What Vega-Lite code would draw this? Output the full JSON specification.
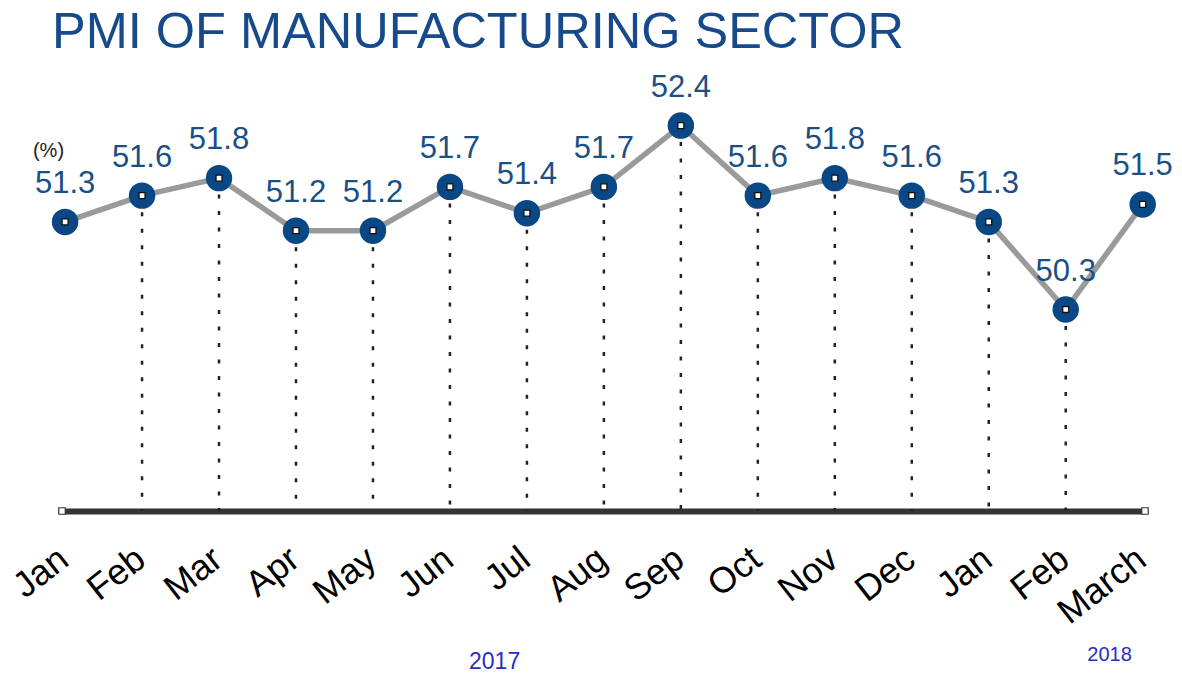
{
  "$schema": "https://vega.github.io/schema/vega-lite/v6.json",
  "width": 1083,
  "height": 438,
  "autosize": {"type": "none"},
  "padding": {"left": 62, "top": 73, "right": 37, "bottom": 163},
  "background": "white",
  "config": {"view": {"stroke": null}, "font": "Liberation Sans"},
  "title": {
    "text": "PMI OF MANUFACTURING SECTOR",
    "anchor": "start",
    "frame": "group",
    "font": "Liberation Sans",
    "fontSize": 50.5,
    "fontWeight": "normal",
    "color": "#174a8b",
    "baseline": "alphabetic",
    "offset": 23,
    "dx": -10,
    "dy": 50
  },
  "datasets": {
    "pmi": [
      {"i": 0, "month": "Jan", "pmi": 51.3},
      {"i": 1, "month": "Feb", "pmi": 51.6},
      {"i": 2, "month": "Mar", "pmi": 51.8},
      {"i": 3, "month": "Apr", "pmi": 51.2},
      {"i": 4, "month": "May", "pmi": 51.2},
      {"i": 5, "month": "Jun", "pmi": 51.7},
      {"i": 6, "month": "Jul", "pmi": 51.4},
      {"i": 7, "month": "Aug", "pmi": 51.7},
      {"i": 8, "month": "Sep", "pmi": 52.4},
      {"i": 9, "month": "Oct", "pmi": 51.6},
      {"i": 10, "month": "Nov", "pmi": 51.8},
      {"i": 11, "month": "Dec", "pmi": 51.6},
      {"i": 12, "month": "Jan", "pmi": 51.3},
      {"i": 13, "month": "Feb", "pmi": 50.3},
      {"i": 14, "month": "March", "pmi": 51.5}
    ],
    "years": [
      {"i": 5.58, "v": 46.28, "year": "2017"},
      {"i": 13.57, "v": 46.36, "year": "2018"}
    ],
    "ends": [
      {"i": -0.04, "v": 48},
      {"i": 14.03, "v": 48}
    ]
  },
  "layer": [
    {
      "data": {"name": "pmi"},
      "transform": [{"filter": "datum.i > 0 && datum.i < 14"}],
      "mark": {"type": "rule", "color": "#222222", "strokeWidth": 2.5, "strokeDash": [4, 12.5]},
      "encoding": {
        "x": {"field": "i", "type": "quantitative", "scale": {"domain": [-0.04, 14.03], "nice": false, "zero": false},
          "axis": {
            "values": [0,1,2,3,4,5,6,7,8,9,10,11,12,13,14],
            "labelExpr": "['Jan','Feb','Mar','Apr','May','Jun','Jul','Aug','Sep','Oct','Nov','Dec','Jan','Feb','March'][datum.value]",
            "labelAngle": -38,
            "labelAlign": "right",
            "labelBaseline": "top",
            "labelFontSize": 36,
            "labelFont": "Liberation Sans",
            "labelColor": "#000000",
            "labelPadding": 30,
            "labelOffset": -12,
            "labelOverlap": false,
            "labelFlush": false,
            "labelBound": false,
            "ticks": false,
            "grid": false,
            "domainColor": "#333333",
            "domainWidth": 6,
            "title": null
          }
        },
        "y": {"field": "pmi", "type": "quantitative", "scale": {"domain": [48, 53], "nice": false, "zero": false}, "axis": {
            "domain": false, "ticks": false, "labels": false, "grid": false,
            "title": "(%)", "titleAngle": 0, "titleAlign": "center", "titleBaseline": "middle",
            "titleX": -14, "titleY": 77, "titleFontSize": 20, "titleFontWeight": "normal",
            "titleFont": "Liberation Sans", "titleColor": "#222222"
          }},
        "y2": {"datum": 48}
      }
    },
    {
      "data": {"name": "pmi"},
      "mark": {"type": "line", "color": "#9a9a9a", "strokeWidth": 5.5},
      "encoding": {
        "x": {"field": "i", "type": "quantitative"},
        "y": {"field": "pmi", "type": "quantitative"}
      }
    },
    {
      "data": {"name": "pmi"},
      "mark": {"type": "point", "shape": "circle", "filled": true, "color": "#0a4885", "size": 700, "opacity": 1},
      "encoding": {
        "x": {"field": "i", "type": "quantitative"},
        "y": {"field": "pmi", "type": "quantitative"}
      }
    },
    {
      "data": {"name": "pmi"},
      "mark": {"type": "square", "fill": "#ffffff", "stroke": "#111111", "strokeWidth": 1.3, "size": 36, "opacity": 1},
      "encoding": {
        "x": {"field": "i", "type": "quantitative"},
        "y": {"field": "pmi", "type": "quantitative"}
      }
    },
    {
      "data": {"name": "pmi"},
      "mark": {"type": "text", "font": "Liberation Sans", "fontSize": 31, "color": "#1a4f86", "baseline": "alphabetic", "align": "center", "dy": -29},
      "encoding": {
        "x": {"field": "i", "type": "quantitative"},
        "y": {"field": "pmi", "type": "quantitative"},
        "text": {"field": "pmi", "type": "quantitative", "format": ".1f"}
      }
    },
    {
      "data": {"name": "ends"},
      "mark": {"type": "square", "fill": "#ffffff", "stroke": "#333333", "strokeWidth": 1.2, "size": 42, "opacity": 1},
      "encoding": {
        "x": {"field": "i", "type": "quantitative"},
        "y": {"field": "v", "type": "quantitative"}
      }
    },
    {
      "data": {"name": "years"},
      "transform": [{"filter": "datum.year == '2017'"}],
      "mark": {"type": "text", "font": "Liberation Sans", "fontSize": 23, "color": "#2b2bc8", "baseline": "middle", "align": "center"},
      "encoding": {
        "x": {"field": "i", "type": "quantitative"},
        "y": {"field": "v", "type": "quantitative"},
        "text": {"field": "year", "type": "nominal"}
      }
    },
    {
      "data": {"name": "years"},
      "transform": [{"filter": "datum.year == '2018'"}],
      "mark": {"type": "text", "font": "Liberation Sans", "fontSize": 20, "color": "#2b2bc8", "baseline": "middle", "align": "center"},
      "encoding": {
        "x": {"field": "i", "type": "quantitative"},
        "y": {"field": "v", "type": "quantitative"},
        "text": {"field": "year", "type": "nominal"}
      }
    }
  ]
}
